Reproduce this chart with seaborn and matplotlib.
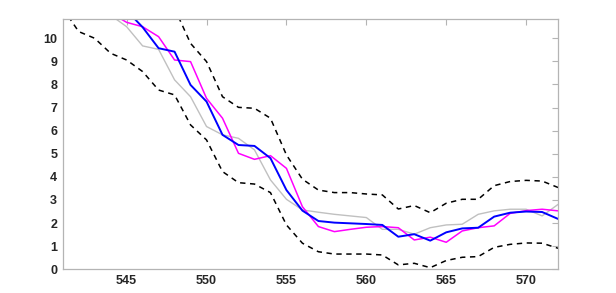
import numpy as np
import pandas as pd
import matplotlib
matplotlib.use("Agg")
import matplotlib.pyplot as plt
import seaborn as sns

# datos
x = list(range(541, 573))

upper = [np.nan, np.nan, np.nan, np.nan, np.nan, 13.5, 12.6, 11.3, 9.78, 8.99,
         7.47, 7.01, 6.97, 6.54, 4.95, 3.90, 3.43, 3.32, 3.32, 3.26,
         3.22, 2.61, 2.76, 2.45, 2.86, 3.03, 3.03, 3.62, 3.80, 3.85,
         3.82, 3.54]
lower = [11.3, 10.29, 10.0, 9.35, 9.06, 8.56, 7.76, 7.55, 6.25, 5.6,
         4.23, 3.75, 3.69, 3.32, 1.92, 1.13, 0.76, 0.66, 0.66, 0.66,
         0.62, 0.19, 0.26, 0.07, 0.38, 0.52, 0.55, 0.95, 1.08, 1.14,
         1.13, 0.91]
gray = [np.nan, np.nan, np.nan, 11.0, 10.5, 9.67, 9.52, 8.2, 7.47, 6.18,
        5.82, 5.67, 5.17, 3.87, 3.03, 2.57, 2.47, 2.38, 2.31, 2.24,
        1.73, 1.73, 1.52, 1.8, 1.92, 1.95, 2.38, 2.53, 2.6, 2.6,
        2.31, 2.81]
magenta = [np.nan, np.nan, np.nan, 11.1, 10.69, 10.5, 10.07, 9.06, 8.99, 7.4,
           6.54, 5.02, 4.76, 4.92, 4.37, 2.71, 1.85, 1.63, 1.73, 1.82,
           1.85, 1.8, 1.27, 1.39, 1.17, 1.66, 1.8, 1.88, 2.42, 2.54,
           2.6, 2.53]
blue = [np.nan, np.nan, np.nan, np.nan, 11.2, 10.48, 9.57, 9.42, 7.98, 7.26,
        5.82, 5.38, 5.34, 4.81, 3.43, 2.54, 2.09, 2.02, 1.99, 1.96,
        1.92, 1.41, 1.52, 1.24, 1.6, 1.77, 1.8, 2.28, 2.45, 2.5,
        2.48, 2.18]

df = pd.DataFrame({"x": x, "upper": upper, "lower": lower,
                   "gray": gray, "magenta": magenta, "blue": blue})

sns.set_style("white")
plt.rcParams["font.family"] = ["Liberation Sans", "DejaVu Sans"]
fig = plt.figure(figsize=(6.16, 2.93), dpi=100)
ax = fig.add_axes([0.1018, 0.0809, 0.8042, 0.8531])

sns.lineplot(data=df, x="x", y="gray", ax=ax, color="#c0c0c0", lw=1.0)
sns.lineplot(data=df, x="x", y="magenta", ax=ax, color="#ff00ff", lw=1.1)
sns.lineplot(data=df, x="x", y="blue", ax=ax, color="#0000ff", lw=1.4)
for col in ["upper", "lower"]:
    sns.lineplot(data=df, x="x", y=col, ax=ax, color="black", lw=1.1,
                 dashes=False, linestyle=(0, (3.5, 3)))

ax.set_xlim(541, 572)
ax.set_ylim(0, 10.82)
ax.set_xticks(range(545, 571, 5))
ax.set_yticks(range(0, 11))
ax.set_xlabel("")
ax.set_ylabel("")

for s in ax.spines.values():
    s.set_color("#b4b4b4")
    s.set_linewidth(0.9)
ax.tick_params(direction="in", length=4, width=0.8, color="#b4b4b4",
               top=True, right=True, labelsize=9, labelcolor="#262626", pad=4)
for lab in ax.get_xticklabels() + ax.get_yticklabels():
    lab.set_fontweight("bold")

fig.savefig("out.png", dpi=100)
